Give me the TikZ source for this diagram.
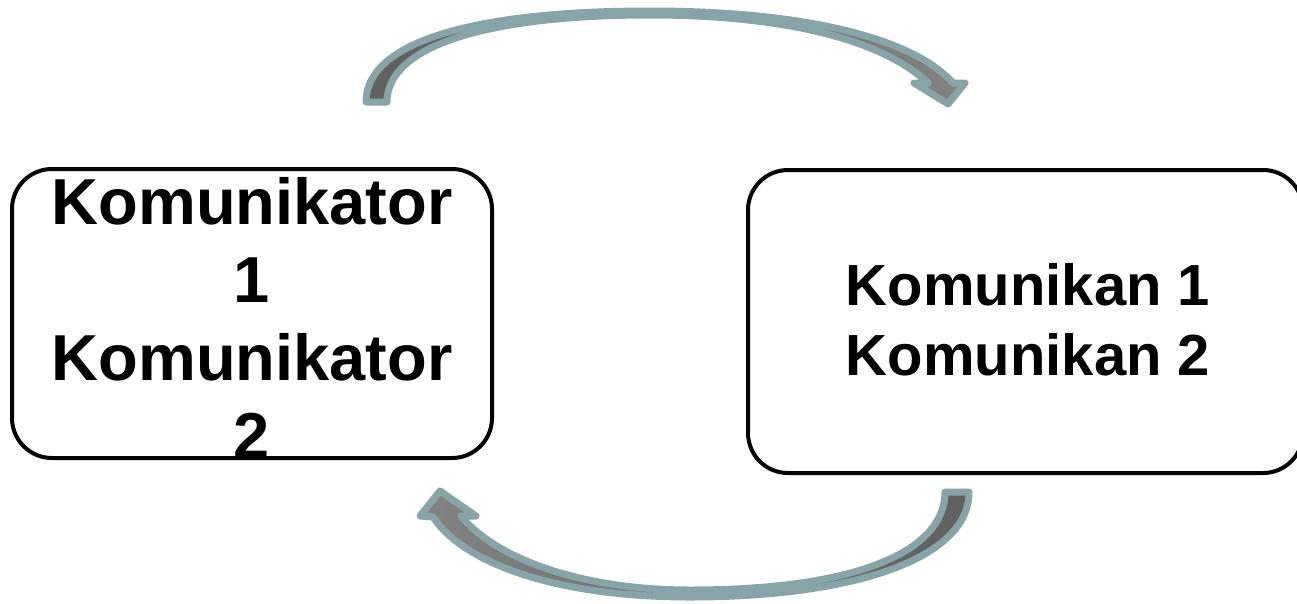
\documentclass[tikz,border=0pt]{standalone}
\usepackage{fontspec}
\setmainfont{Liberation Sans}
\begin{document}
\begin{tikzpicture}[x=1pt,y=-1pt,
  box/.style={draw=black,line width=4pt,rounded corners=40pt},
  bigtext/.style={font=\fontsize{65}{78}\selectfont\bfseries,align=center},
  midtext/.style={font=\fontsize{58}{70}\selectfont\bfseries,align=center},
  curvarrow/.style={draw={rgb,255:red,135;green,165;blue,168},line width=7pt,line join=round}]
\useasboundingbox (0,0) rectangle (1297,603);
\begin{scope}
\clip (0,0) rectangle (1297,603);
\draw[box] (12,169) rectangle (492,458);
\draw[box] (748,170) rectangle (1303,473);
\end{scope}
\node[bigtext] (kom) at (252,318) {Komunikator\\1\\Komunikator\\2};
\node[midtext] (kmn) at (1028,320) {Komunikan 1\\Komunikan 2};
% top curved arrow
\path[curvarrow,left color={rgb,255:red,96;green,96;blue,96},right color={rgb,255:red,130;green,130;blue,130}]
  (366,102) .. controls (366,40) and (480,11) .. (650,11)
  .. controls (810,11) and (915,40) .. (953,83)
  -- (965,83) -- (948,104) -- (914,83) -- (928,83)
  .. controls (880,38) and (780,15) .. (650,15)
  .. controls (490,15) and (387,45) .. (387,102) -- cycle;
% bottom curved arrow
\path[curvarrow,right color={rgb,255:red,96;green,96;blue,96},left color={rgb,255:red,130;green,130;blue,130}]
  (969,492) .. controls (969,560) and (850,597) .. (690,597)
  .. controls (560,597) and (465,565) .. (433,517)
  -- (420,516) -- (440,491) -- (476,516) -- (461,516)
  .. controls (495,558) and (580,590) .. (690,590)
  .. controls (860,590) and (945,550) .. (945,492) -- cycle;
\end{tikzpicture}
\end{document}
